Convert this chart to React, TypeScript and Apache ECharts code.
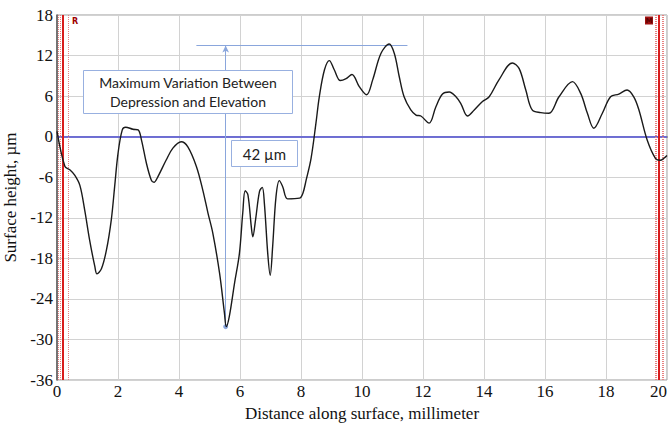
import React, { useEffect, useRef } from "react";
import * as echarts from "echarts";

// Profile: distance (mm) and surface height (µm)
const distanceMm = [
  0.0, 0.26, 0.42, 0.58, 0.75, 0.91, 1.07, 1.24, 1.31, 1.46, 1.62, 1.78, 1.89, 2.0, 2.14, 2.25,
  2.49, 2.66, 2.77, 2.93, 3.09, 3.18, 3.31, 3.58, 3.8, 4.07, 4.29, 4.57, 4.78, 4.95, 5.11,
  5.33, 5.49, 5.55, 5.65, 5.82, 5.98, 6.09, 6.17, 6.26, 6.37, 6.42, 6.51, 6.64, 6.73, 6.8,
  6.91, 6.99, 7.07, 7.18, 7.29, 7.4, 7.56, 7.95, 8.06, 8.17, 8.33, 8.49, 8.6, 8.77, 8.93,
  9.09, 9.29, 9.48, 9.67, 9.91, 10.15, 10.35, 10.62, 10.89, 11.06, 11.22, 11.38, 11.6, 11.77,
  11.93, 12.2, 12.42, 12.64, 12.86, 13.08, 13.24, 13.46, 13.68, 13.95, 14.17, 14.49, 14.93,
  15.15, 15.37, 15.58, 15.86, 16.13, 16.46, 16.9, 17.17, 17.39, 17.6, 17.88, 18.15, 18.42,
  18.69, 18.91, 19.08, 19.35, 19.62, 19.78, 19.9, 20.0,
];
const heightUm = [
  0.8, -4.4, -4.9, -5.7, -7.2, -10.9, -15.3, -19.2, -20.3, -19.5, -16.8, -12.3, -7.4, -2.5, 1.0, 1.4,
  1.1, 1.0, -0.5, -3.9, -6.4, -6.75, -5.9, -3.45, -1.7, -0.75, -1.5, -4.4, -7.9, -11.3, -14.3,
  -20.2, -26.1, -28.1, -26.6, -21.7, -17.3, -11.3, -8.0, -8.6, -13.3, -14.8, -12.3, -8.1, -7.5, -9.9,
  -17.3, -20.5, -16.3, -8.9, -6.5, -7.4, -9.2, -9.1, -8.4, -6.4, -3.2, 2.0, 5.9, 9.9, 11.25,
  9.9, 8.3, 8.6, 9.2, 7.4, 6.2, 8.4, 12.3, 13.7, 12.3, 8.9, 5.9, 3.95, 3.2,
  3.06, 2.0, 4.4, 6.3, 6.6, 5.9, 4.9, 3.06, 3.95, 5.2, 5.9, 8.4, 10.9,
  10.1, 6.9, 3.95, 3.56, 3.46, 5.9, 8.14, 6.4, 3.46, 1.24, 3.46, 5.9, 6.3,
  6.9, 5.9, 3.95, -0.5, -3.2, -3.5, -3.2, -2.8,
];

const xTicks = [0, 2, 4, 6, 8, 10, 12, 14, 16, 18, 20];
const yTicks = [-36, -30, -24, -18, -12, -6, 0, 6, 12, 18];

// Annotation values
const maxHeight = 13.5;
const minHeight = -28.1;
const minDistance = 5.53;
const topLineFrom = 4.57;
const topLineTo = 11.49;
const leftSolidCursor = 0.2;
const leftDottedCursors = [0.03, 0.1, 0.36];
const rightSolidCursor = 19.72;
const rightDottedCursors = [19.6, 19.66, 19.83, 19.88];

const App: React.FC = () => {
  const ref = useRef<HTMLDivElement>(null);

  useEffect(() => {
    if (!ref.current) return;
    document.body.style.margin = "0";
    const chart = echarts.init(ref.current, undefined, { renderer: "svg" });
    const serif = "'Times New Roman', 'Liberation Serif', serif";
    const sans = "Lato";

    const cursorLines: any[] = [];
    leftDottedCursors.concat(rightDottedCursors).forEach((x) =>
      cursorLines.push({ xAxis: x, lineStyle: { color: "#e88080", width: 1, type: [1, 1] } })
    );
    [leftSolidCursor, rightSolidCursor].forEach((x) =>
      cursorLines.push({ xAxis: x, lineStyle: { color: "#d81c1c", width: 2, type: "solid" } })
    );

    chart.setOption({
      animation: false,
      backgroundColor: "#ffffff",
      textStyle: { fontFamily: serif },
      grid: {
        left: 57,
        right: 4,
        top: 15,
        bottom: 45,
        show: true,
        borderColor: "#9a9a9a",
        borderWidth: 1,
        containLabel: false,
        outerBoundsMode: "none",
      },
      xAxis: {
        type: "value",
        min: xTicks[0],
        max: xTicks[xTicks.length - 1],
        interval: 2,
        name: "Distance along surface, millimeter",
        nameLocation: "middle",
        nameGap: 21,
        nameTextStyle: { fontFamily: serif, fontSize: 17, color: "#111" },
        axisLine: { show: true, lineStyle: { color: "#555", width: 1.5 } },
        axisTick: { show: false },
        axisLabel: {
          fontFamily: serif,
          fontSize: 17,
          color: "#111",
          margin: 3,
          alignMaxLabel: "right",
        },
        splitLine: { show: true, lineStyle: { color: "#d2d2d2", width: 1 } },
      },
      yAxis: {
        type: "value",
        min: yTicks[0],
        max: yTicks[yTicks.length - 1],
        interval: 6,
        name: "Surface height, µm",
        nameLocation: "middle",
        nameGap: 33,
        nameRotate: 90,
        nameTextStyle: { fontFamily: serif, fontSize: 17, color: "#111" },
        axisLine: { show: true, onZero: false, lineStyle: { color: "#555", width: 1.5 } },
        axisTick: { show: false },
        axisLabel: { fontFamily: serif, fontSize: 17, color: "#111", margin: 4 },
        splitLine: { show: true, lineStyle: { color: "#d2d2d2", width: 1 } },
      },
      series: [
        {
          type: "line",
          data: distanceMm.map((d, i) => [d, heightUm[i]]),
          smooth: 0.35,
          showSymbol: false,
          symbol: "none",
          lineStyle: { color: "#1a1a1a", width: 1.4 },
          z: 5,
          markLine: {
            silent: true,
            symbol: ["none", "none"],
            label: { show: false },
            data: [
              { yAxis: 0, lineStyle: { color: "#6b6bf0", width: 1.5, type: "solid" } },
              ...cursorLines,
              [
                { coord: [topLineFrom, maxHeight], lineStyle: { color: "#8aa6dc", width: 1, type: "solid" } },
                { coord: [topLineTo, maxHeight] },
              ],
            ],
          },
        },
        {
          type: "line",
          data: [],
          markLine: {
            silent: true,
            symbol: ["circle", "arrow"],
            symbolSize: [5, 7],
            label: { show: false },
            data: [
              [
                { coord: [minDistance, minHeight], lineStyle: { color: "#8aa6dc", width: 1, type: "solid" }, itemStyle: { color: "#4a78d0" } },
                { coord: [minDistance, maxHeight] },
              ],
            ],
          },
        },
      ],
      graphic: [
        {
          type: "rect",
          shape: { x: 83.5, y: 70.5, width: 209, height: 43 },
          style: { fill: "#ffffff", stroke: "#98b0e0", lineWidth: 1 },
          z: 10,
        },
        {
          type: "text",
          x: 188,
          y: 92,
          style: {
            text: "Maximum Variation Between\nDepression and Elevation",
            fontFamily: sans,
            fontSize: 14,
            lineHeight: 19,
            fill: "#222",
            align: "center",
            verticalAlign: "middle",
          },
          z: 11,
        },
        {
          type: "rect",
          shape: { x: 231.5, y: 140.5, width: 66, height: 26 },
          style: { fill: "#ffffff", stroke: "#98b0e0", lineWidth: 1 },
          z: 10,
        },
        {
          type: "text",
          x: 264.5,
          y: 154,
          style: {
            text: "42 µm",
            fontFamily: sans,
            fontSize: 15,
            fill: "#222",
            align: "center",
            verticalAlign: "middle",
          },
          z: 11,
        },
        {
          type: "text",
          x: 75,
          y: 21,
          style: {
            text: "R",
            fontFamily: "DejaVu Sans",
            fontWeight: "bold",
            fontSize: 8,
            fill: "#a00000",
            align: "center",
            verticalAlign: "middle",
          },
          z: 11,
        },
        {
          type: "rect",
          shape: { x: 645, y: 16.5, width: 8, height: 8 },
          style: { fill: "#a01010" },
          z: 10,
        },
        {
          type: "text",
          x: 649,
          y: 21,
          style: {
            text: "M",
            fontFamily: "DejaVu Sans",
            fontWeight: "bold",
            fontSize: 7,
            fill: "#5a0000",
            align: "center",
            verticalAlign: "middle",
          },
          z: 11,
        },
      ],
    });

    return () => chart.dispose();
  }, []);

  return (
    <div
      ref={ref}
      style={{ position: "absolute", left: 0, top: 0, width: 671, height: 425 }}
    />
  );
};

export default App;
